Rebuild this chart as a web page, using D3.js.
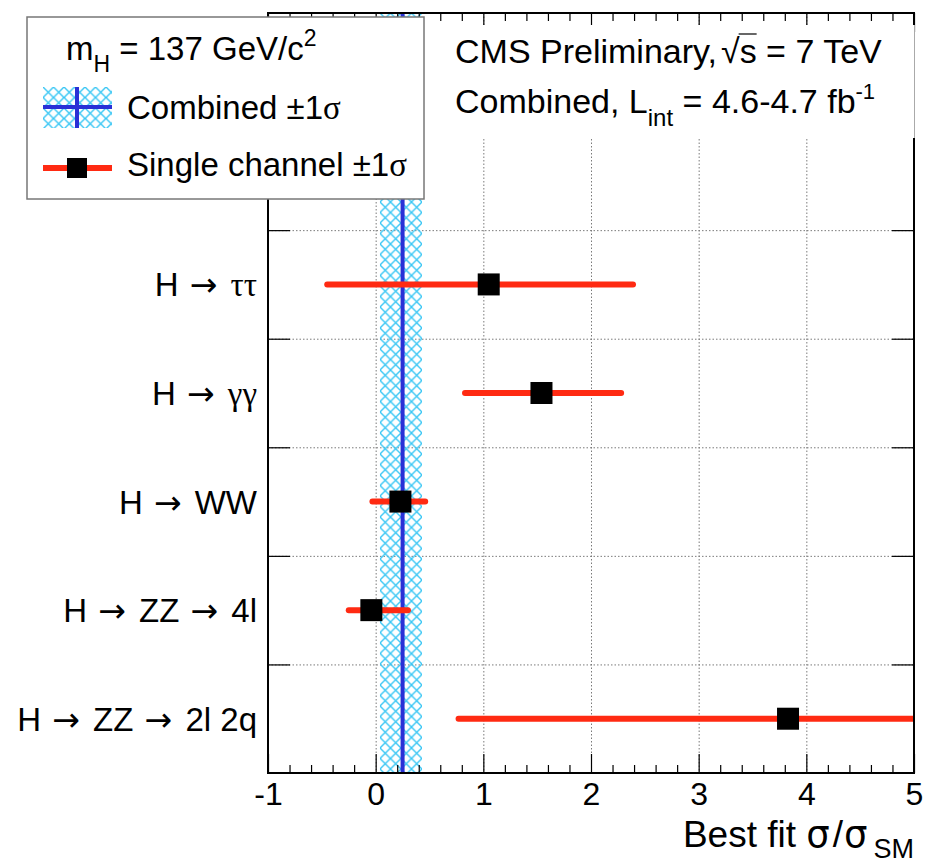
<!DOCTYPE html>
<html>
<head>
<meta charset="utf-8">
<script src="https://cdn.jsdelivr.net/npm/d3@7"></script>
<style>
  html, body { margin: 0; padding: 0; background: #fff; }
  svg { display: block; font-family: "Liberation Sans", Arial, Helvetica, sans-serif; }
</style>
</head>
<body>
<svg id="chart" width="926" height="865"></svg>
<script>
// Signal strength per decay channel, m_H = 137 GeV
const channels = ["H → ττ", "H → γγ", "H → WW", "H → ZZ → 4l", "H → ZZ → 2l 2q"];
const bestFit  = [1.05, 1.54, 0.23, -0.04, 3.83];
const errLow   = [-0.45, 0.83, -0.03, -0.25, 0.77];
const errHigh  = [2.39, 2.28, 0.46, 0.30, 5.80];

// Combined fit and its ±1σ band
const combinedFit  = 0.25;
const combinedLow  = 0.04;
const combinedHigh = 0.43;

const xTicks = [-1, 0, 1, 2, 3, 4, 5];
const gridX = [0, 1, 2, 3, 4];
// two empty rows at the top leave room for the legend
const spacerRows = ["spacer-1", "spacer-2"];

const svg = d3.select("#chart");
const frame = { left: 268, right: 914, top: 13, bottom: 773 };
const rows = spacerRows.concat(channels);

const x = d3.scaleLinear().domain([-1, 5]).range([frame.left, frame.right]);
const y = d3.scaleBand().domain(rows).range([frame.top, frame.bottom]).padding(0);
const rowEdge = d3.scaleLinear().domain([0, rows.length]).range([frame.top, frame.bottom]);
const rowBoundaries = d3.range(1, rows.length);

const RED = "#ff2a12", BLUE = "#2a30d6", CYAN = "#38c6f4";
const FONT = 32;
const GREEK_FONT = "'Liberation Serif', 'DejaVu Serif', serif";
const ARROW_FONT = "'DejaVu Sans', sans-serif";

// Writes a label into a <text>, giving Greek letters and arrows their own fonts
function richText(sel, str) {
  const runs = [];
  for (const ch of str) {
    const kind = ch === "→" ? "arrow" : (/[α-ωΑ-Ω]/.test(ch) ? "greek" : "plain");
    const last = runs[runs.length - 1];
    if (last && last.kind === kind && kind !== "arrow") last.s += ch;
    else runs.push({ kind, s: ch });
  }
  let afterArrow = false;
  runs.forEach(r => {
    const t = sel.append("tspan").text(r.s);
    if (r.kind === "greek") t.attr("font-family", GREEK_FONT);
    if (r.kind === "arrow") t.attr("font-family", ARROW_FONT).attr("dx", 2);
    else if (afterArrow) t.attr("dx", 4);
    afterArrow = r.kind === "arrow";
  });
  return sel;
}

const defs = svg.append("defs");
defs.append("clipPath").attr("id", "plotClip")
  .append("rect")
  .attr("x", frame.left).attr("y", frame.top)
  .attr("width", frame.right - frame.left).attr("height", frame.bottom - frame.top);

function hatch(id, x0, y0) {
  const s = 10.5;
  const p = defs.append("pattern").attr("id", id)
    .attr("patternUnits", "userSpaceOnUse")
    .attr("width", s).attr("height", s)
    .attr("x", x0).attr("y", y0);
  p.append("path")
    .attr("d", `M-1,-1L${s + 1},${s + 1}M${s + 1},-1L-1,${s + 1}`)
    .attr("stroke", CYAN).attr("stroke-width", 1.4).attr("fill", "none");
}
hatch("bandHatch", x(combinedLow), frame.top);
hatch("legendHatch", 43, 87);

// ---- dotted grid ----
const grid = svg.append("g").attr("stroke", "#7a7a7a").attr("stroke-width", 1)
  .attr("stroke-dasharray", "1.5,2");
grid.selectAll("line.gx").data(gridX).join("line")
  .attr("x1", d => x(d) + 0.5).attr("x2", d => x(d) + 0.5)
  .attr("y1", frame.top).attr("y2", frame.bottom);
grid.selectAll("line.gy").data(rowBoundaries).join("line")
  .attr("x1", frame.left).attr("x2", frame.right)
  .attr("y1", d => rowEdge(d) + 0.5).attr("y2", d => rowEdge(d) + 0.5);

// ---- combined band ----
const plot = svg.append("g").attr("clip-path", "url(#plotClip)");
plot.append("rect")
  .attr("x", x(combinedLow)).attr("y", frame.top)
  .attr("width", x(combinedHigh) - x(combinedLow))
  .attr("height", frame.bottom - frame.top)
  .attr("fill", "url(#bandHatch)");
plot.append("line")
  .attr("x1", x(combinedFit)).attr("x2", x(combinedFit))
  .attr("y1", frame.top).attr("y2", frame.bottom)
  .attr("stroke", BLUE).attr("stroke-width", 4);

// ---- single channel fits ----
const fits = channels.map((c, i) => ({ c, v: bestFit[i], lo: errLow[i], hi: errHigh[i] }));
const yc = d => y(d.c) + y.bandwidth() / 2;
plot.selectAll("line.err").data(fits).join("line")
  .attr("class", "err")
  .attr("x1", d => x(d.lo)).attr("x2", d => x(d.hi))
  .attr("y1", yc).attr("y2", yc)
  .attr("stroke", RED).attr("stroke-width", 6).attr("stroke-linecap", "round");
const M = 22;
plot.selectAll("rect.mk").data(fits).join("rect")
  .attr("class", "mk")
  .attr("x", d => x(d.v) - M / 2).attr("y", d => yc(d) - M / 2)
  .attr("width", M).attr("height", M).attr("fill", "#000");

// ---- axes ----
const minorTicks = d3.range(-1, 5.0001, 0.2).filter(v => Math.abs(v - Math.round(v)) > 1e-6);
function styleAxis(g) {
  g.select(".domain").remove();
  g.selectAll(".tick line").attr("stroke", "#000").attr("stroke-width", 1.2);
  g.attr("font-family", null).attr("font-size", null);
}
// bottom
svg.append("g").attr("transform", `translate(0,${frame.bottom})`)
  .call(d3.axisBottom(x).tickValues(xTicks).tickSize(-19).tickPadding(9.5).tickFormat(d => String(d)))
  .call(styleAxis)
  .call(g => g.selectAll("text").attr("fill", "#000").attr("font-size", FONT));
svg.append("g").attr("transform", `translate(0,${frame.bottom})`)
  .call(d3.axisBottom(x).tickValues(minorTicks).tickSize(-8).tickFormat(""))
  .call(styleAxis);
// top
svg.append("g").attr("transform", `translate(0,${frame.top})`)
  .call(d3.axisTop(x).tickValues(xTicks).tickSize(-19).tickFormat(""))
  .call(styleAxis);
svg.append("g").attr("transform", `translate(0,${frame.top})`)
  .call(d3.axisTop(x).tickValues(minorTicks).tickSize(-8).tickFormat(""))
  .call(styleAxis);
// left / right row separators
svg.append("g").attr("transform", `translate(${frame.left},0)`)
  .call(d3.axisLeft(rowEdge).tickValues(rowBoundaries).tickSize(-22).tickFormat(""))
  .call(styleAxis);
svg.append("g").attr("transform", `translate(${frame.right},0)`)
  .call(d3.axisRight(rowEdge).tickValues(rowBoundaries).tickSize(-22).tickFormat(""))
  .call(styleAxis);

// frame
svg.append("rect")
  .attr("x", frame.left).attr("y", frame.top)
  .attr("width", frame.right - frame.left).attr("height", frame.bottom - frame.top)
  .attr("fill", "none").attr("stroke", "#000").attr("stroke-width", 2);

// channel labels
svg.append("g").selectAll("text").data(channels).join("text")
  .attr("x", frame.left - 11)
  .attr("y", d => y(d) + y.bandwidth() / 2 + 12)
  .attr("text-anchor", "end").attr("font-size", FONT + 1).attr("fill", "#000")
  .each(function (d) { richText(d3.select(this), d); });

// axis title
const title = svg.append("text")
  .attr("x", frame.right).attr("y", 847)
  .attr("text-anchor", "end").attr("font-size", 37).attr("fill", "#000");
title.append("tspan").text("Best fit ");
title.append("tspan").attr("font-family", "'DejaVu Sans', sans-serif").attr("font-size", 37).text("σ");
title.append("tspan").attr("dx", 3).text("/");
title.append("tspan").attr("dx", 1).attr("font-family", "'DejaVu Sans', sans-serif").attr("font-size", 37).text("σ");
title.append("tspan").attr("dx", 6).attr("font-size", 27).attr("dy", 11).text("SM");

// ---- header pave ----
svg.append("rect").attr("x", 425).attr("y", 25).attr("width", 490).attr("height", 113).attr("fill", "#fff");
svg.append("line").attr("x1", frame.right + 0.5).attr("x2", frame.right + 0.5)
  .attr("y1", 25).attr("y2", 138).attr("stroke", "#aaa").attr("stroke-width", 1);

const h1 = svg.append("text").attr("x", 455).attr("y", 63).attr("font-size", 34).attr("fill", "#000");
h1.append("tspan").text("CMS Preliminary,");
h1.append("tspan").attr("dx", 4).text("√");
h1.append("tspan").text("s");
h1.append("tspan").text(" = 7 TeV");
{
  const node = h1.node();
  const full = node.textContent;
  const iR = full.indexOf("√");
  const r = node.getExtentOfChar(iR), s = node.getExtentOfChar(iR + 1);
  svg.append("line")
    .attr("x1", r.x + r.width - 1).attr("x2", s.x + s.width)
    .attr("y1", r.y + 2).attr("y2", r.y + 2)
    .attr("stroke", "#000").attr("stroke-width", 1.2);
}
const h2 = svg.append("text").attr("x", 455).attr("y", 113).attr("font-size", 34).attr("fill", "#000");
h2.append("tspan").text("Combined, L");
h2.append("tspan").attr("font-size", 24).attr("dy", 13).text("int");
h2.append("tspan").attr("dy", -13).text(" = 4.6-4.7 fb");
h2.append("tspan").attr("font-size", 22).attr("dy", -14).text("-1");

// ---- legend ----
const lg = svg.append("g");
lg.append("rect").attr("x", 27).attr("y", 17).attr("width", 397).attr("height", 182)
  .attr("fill", "#fff").attr("stroke", "#777").attr("stroke-width", 1.5);
const m = lg.append("text").attr("x", 66).attr("y", 60).attr("font-size", FONT + 1).attr("fill", "#000");
m.append("tspan").text("m");
m.append("tspan").attr("font-size", 23).attr("dy", 12).text("H");
m.append("tspan").attr("dy", -12).text(" = 137 GeV/c");
m.append("tspan").attr("font-size", 23).attr("dy", -14).text("2");

lg.append("rect").attr("x", 43).attr("y", 87).attr("width", 69).attr("height", 41)
  .attr("fill", "url(#legendHatch)");
lg.append("line").attr("x1", 43).attr("x2", 112).attr("y1", 107).attr("y2", 107)
  .attr("stroke", BLUE).attr("stroke-width", 4);
lg.append("line").attr("x1", 77).attr("x2", 77).attr("y1", 87).attr("y2", 128)
  .attr("stroke", BLUE).attr("stroke-width", 4);
richText(lg.append("text").attr("x", 127).attr("y", 119).attr("font-size", FONT + 1).attr("fill", "#000"),
  "Combined ±1σ");

lg.append("line").attr("x1", 43).attr("x2", 112).attr("y1", 168).attr("y2", 168)
  .attr("stroke", RED).attr("stroke-width", 6);
lg.append("rect").attr("x", 67).attr("y", 158).attr("width", 20).attr("height", 20).attr("fill", "#000");
richText(lg.append("text").attr("x", 127).attr("y", 176).attr("font-size", FONT + 1).attr("fill", "#000"),
  "Single channel ±1σ");
</script>
</body>
</html>
